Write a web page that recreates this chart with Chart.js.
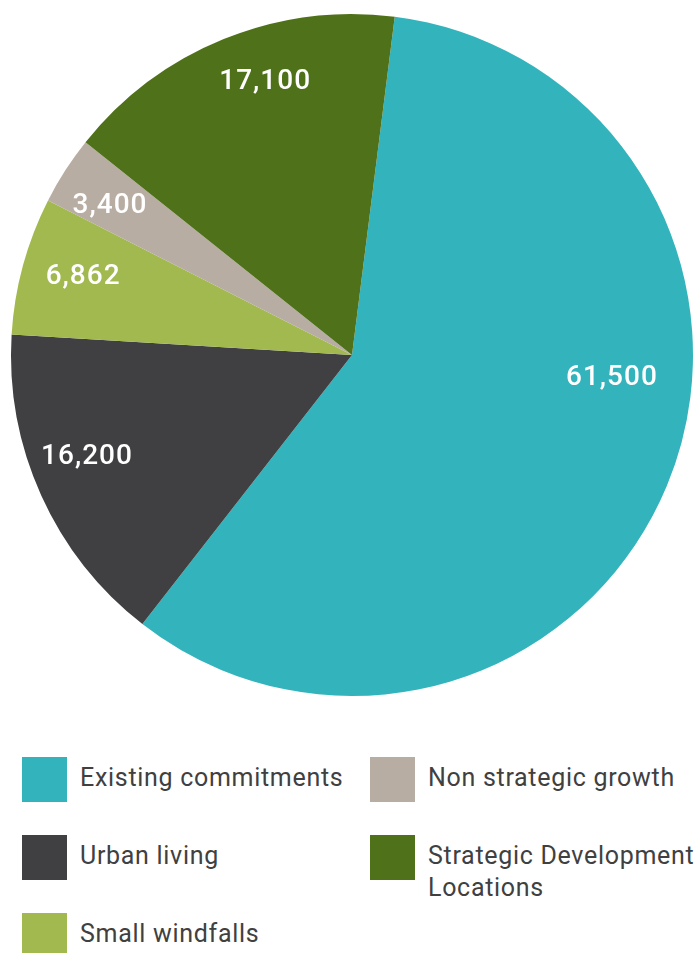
<!DOCTYPE html>
<html>
<head>
<meta charset="utf-8">
<script src="https://cdn.jsdelivr.net/npm/chart.js@4"></script>
<style>
    body { margin: 0; background: #fff; font-family: Roboto, sans-serif; }
    #chart-wrap { position: relative; width: 698px; height: 710px; }
    #legend {
        display: grid;
        grid-template-columns: 348px 328px;
        grid-template-rows: 78px 78px 78px;
        grid-auto-flow: column;
        padding: 47px 0 0 22px;
    }
    .legend-item { display: flex; align-items: flex-start; }
    .legend-box { width: 45px; height: 45px; flex: none; }
    .legend-text {
        margin: 5px 0 0 13px;
        font-size: 25px;
        letter-spacing: 0.7px;
        line-height: 32px;
        color: #404041;
    }
</style>
</head>
<body>
<div id="chart-wrap"><canvas id="pie"></canvas></div>
<div id="legend"></div>
<script>
// --- DATA ---
const categories = ['Existing commitments', 'Urban living', 'Small windfalls', 'Non strategic growth', 'Strategic Development Locations'];
const legendLabels = ['Existing commitments', 'Urban living', 'Small windfalls', 'Non strategic growth', 'Strategic Development<br>Locations'];
const values = [61500, 16200, 6862, 3400, 17100];
const valueLabels = ['61,500', '16,200', '6,862', '3,400', '17,100'];
const colors = ['#33b4bc', '#404042', '#a1b94e', '#b8ada2', '#4e7119'];

// where inside each slice the number sits (share of the slice angle, share of radius)
const labelAngleFrac = [0.416, 0.561, 0.551, 0.416, 0.577];
const labelRadiusFrac = [0.765, 0.832, 0.822, 0.835, 0.843];

const sliceLabels = {
    id: 'sliceLabels',
    afterDatasetsDraw(chart) {
        const ctx = chart.ctx;
        const meta = chart.getDatasetMeta(0);
        ctx.save();
        ctx.fillStyle = '#fff';
        ctx.font = '500 28px Roboto';
        ctx.letterSpacing = '1px';
        ctx.textAlign = 'center';
        ctx.textBaseline = 'middle';
        meta.data.forEach((arc, i) => {
            const p = arc.getProps(['x', 'y', 'startAngle', 'endAngle', 'outerRadius'], true);
            const a = p.startAngle + (p.endAngle - p.startAngle) * labelAngleFrac[i];
            const r = p.outerRadius * labelRadiusFrac[i];
            ctx.fillText(valueLabels[i], p.x + Math.cos(a) * r, p.y + Math.sin(a) * r + 1);
        });
        ctx.restore();
    }
};

new Chart(document.getElementById('pie'), {
    type: 'pie',
    data: {
        labels: categories,
        datasets: [{ data: values, backgroundColor: colors, borderWidth: 0 }]
    },
    options: {
        responsive: true,
        maintainAspectRatio: false,
        animation: false,
        rotation: 7.2,
        layout: { padding: { left: 11, right: 5, top: 14, bottom: 14 } },
        plugins: { legend: { display: false }, tooltip: { enabled: false } }
    },
    plugins: [sliceLabels]
});

// --- LEGEND ---
const legendEl = document.getElementById('legend');
categories.forEach((c, i) => {
    const item = document.createElement('div');
    item.className = 'legend-item';
    item.innerHTML = `<div class="legend-box" style="background:${colors[i]}"></div><div class="legend-text">${legendLabels[i]}</div>`;
    legendEl.appendChild(item);
});
</script>
</body>
</html>
